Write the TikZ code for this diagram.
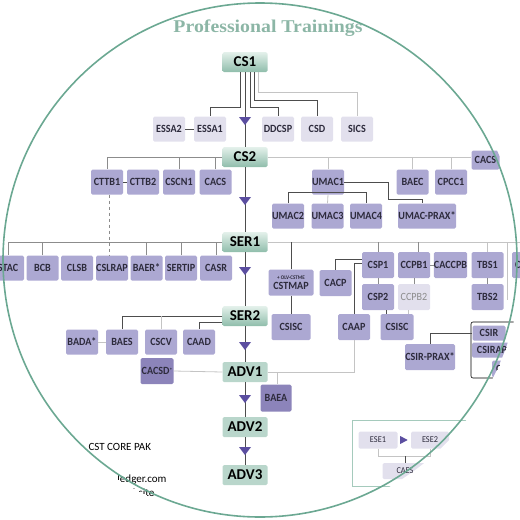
\documentclass[tikz,border=0pt]{standalone}
\usepackage{fontspec}
\newfontfamily\boxfamily[FakeStretch=0.92]{Carlito}
\newfontfamily\plainfamily{Carlito}
\newfontfamily\titlefamily[FakeStretch=1.1]{Liberation Serif}

\definecolor{boxfill}{HTML}{ACA8D2}
\definecolor{palefill}{HTML}{E2E0ED}
\definecolor{deepfill}{HTML}{8C84BA}
\definecolor{inkbox}{HTML}{2D2B3C}
\definecolor{stagetop}{HTML}{E4F1EB}
\definecolor{stagebot}{HTML}{8FBDAB}
\definecolor{advfill}{HTML}{B9D6CB}
\definecolor{tipfill}{HTML}{5B4EA0}
\definecolor{linkdark}{HTML}{4D4D4D}
\definecolor{linkmid}{HTML}{8C8C8C}
\definecolor{linkfaint}{HTML}{C4C4C4}
\definecolor{rimcol}{HTML}{6BA892}
\definecolor{titlecol}{HTML}{8CB6A6}
\definecolor{framecol}{HTML}{A5CABC}

\tikzset{
  box/.style={fill=boxfill, text=inkbox, rounded corners=1.5pt, inner sep=0pt,
    minimum width=32pt, minimum height=25pt,
    font=\boxfamily\bfseries\fontsize{11}{12}\selectfont},
  pale/.style={box, fill=palefill},
  deep/.style={box, fill=deepfill},
  stagebase/.style={rounded corners=1.5pt, inner sep=0pt, minimum width=45pt,
    minimum height=20pt, text=black,
    font=\plainfamily\bfseries\fontsize{15}{16}\selectfont},
  stage/.style={stagebase, top color=stagetop, bottom color=stagebot},
  level/.style={stagebase, fill=advfill},
  darkline/.style={draw=linkdark, line width=0.7pt},
  greyline/.style={draw=linkmid, line width=0.7pt},
  paleline/.style={draw=linkfaint, line width=0.8pt},
  spine/.style={draw=linkdark, line width=1pt},
  tip/.style={fill=tipfill},
}

\begin{document}
\begin{tikzpicture}[x=1pt,y=-1pt]
\useasboundingbox (0,0) rectangle (520,520);
\begin{scope}
\clip (260,260) circle[radius=261pt];

% title
\node[font=\titlefamily\bfseries\fontsize{18}{19}\selectfont, text=titlecol]
  (head) at (268,28) {Professional Trainings};

% main track
\node[stage] (cs1) at (245,62) {CS1};
\node[stage] (cs2) at (245,157) {CS2};
\node[stage] (ser1) at (245,242) {SER1};
\node[stage] (ser2) at (245,316) {SER2};
\node[level] (adv1) at (245,372) {ADV1};
\node[level] (adv2) at (245,427) {ADV2};
\node[level] (adv3) at (245,475) {ADV3};

\draw[spine] (cs1.south) -- (cs2.north) (cs2.south) -- (ser1.north)
  (ser1.south) -- (ser2.north) (ser2.south) -- (adv1.north)
  (adv1.south) -- (adv2.north) (adv2.south) -- (adv3.north);
\foreach \ty in {117,197,267,342,395,447}
  \fill[tip] (239,\ty) -- (251,\ty) -- (245,\ty+8) -- cycle;

%% CS1 branch
\node[pale] (essa2) at (169,129) {ESSA2};
\node[pale] (essa1) at (210,129) {ESSA1};
\node[pale] (ddcsp) at (278,129) {DDCSP};
\node[pale] (csd) at (317,129) {CSD};
\node[pale] (sics) at (357,129) {SICS};

\draw[darkline] ([xshift=-5]cs1.south) -- ++(0,35) -| (essa1.north);
\draw[darkline] ([xshift=5.5]cs1.south) -- ++(0,35) -| (ddcsp.north);
\draw[darkline] ([xshift=9.5]cs1.south) -- ++(0,28) -| (csd.north);
\draw[paleline] ([xshift=13.5]cs1.south) -- ++(0,20) -| (sics.north);
\draw[darkline] (essa2.east) -- (essa1.west);

%% CS2 branch, left
\node[box] (cttb1) at (107,182) {CTTB1};
\node[box] (cttb2) at (143,182) {CTTB2};
\node[box] (cscn1) at (179,182) {CSCN1};
\node[box] (cacs) at (215.5,182) {CACS};

\draw[greyline] (cs2.west) -| (cttb1.north);
\draw[greyline] (cscn1.north) -- (cscn1.north |- cs2.west);
\draw[greyline] (cacs.north) -- (cacs.north |- cs2.west);
\draw[darkline] (cttb1.east) -- (cttb2.west);

%% CS2 branch, right
\node[box, minimum width=28pt, minimum height=19pt] (cacsr) at (485.5,160) {CACS};
\node[box] (umac1) at (328,182) {UMAC1};
\node[box] (baec) at (412.5,182) {BAEC};
\node[box] (cpcc1) at (451,182) {CPCC1};
\node[box] (umac2) at (288,216) {UMAC2};
\node[box] (umac3) at (327.5,216) {UMAC3};
\node[box] (umac4) at (366,216) {UMAC4};
\node[box, minimum width=58pt] (umacprax) at (427,216) {UMAC-PRAX*};

\draw[paleline] (cs2.east) -- (cs2.east -| cacsr.west);
\draw[paleline] (umac1.north) -- (umac1.north |- cs2.east);
\draw[paleline] (baec.north) -- (baec.north |- cs2.east);
\draw[paleline] (cpcc1.north) -- (cpcc1.north |- cs2.east);
\draw[darkline] (umac2.north) -- ++(0,-11) -| (umac4.north);
\draw[paleline] (umac1.south) -- (umac3.north);
\draw[darkline] (umac1.east) -- ++(44,0) -- ++(0,17.5) -| ([xshift=-5]umacprax.north);

%% SER1 branch, left
\node[box] (stac) at (8,268) {STAC};
\node[box] (bcb) at (42.5,268) {BCB};
\node[box] (clsb) at (77,268) {CLSB};
\node[box] (cslrap) at (112,268) {CSLRAP};
\node[box] (baer) at (146.5,268) {BAER*};
\node[box] (sertip) at (181,268) {SERTIP};
\node[box] (casr) at (216,268) {CASR};

\draw[greyline] (ser1.west) -| (stac.north);
\foreach \n in {bcb,baer,sertip,casr}
  \draw[greyline] (\n.north) -- (\n.north |- ser1.west);
\draw[greyline, dashed] ([xshift=2.5]cttb1.south) -- ([xshift=2.5]cttb1.south |- cslrap.north);

%% SER1 branch, right
\coordinate (rimend) at (525,242);
\node[box, minimum width=45pt, minimum height=26pt, align=center] (cstmap) at (291,282.5)
  {{\fontsize{5.5}{6}\selectfont + OLV-CSTME}\\[-2pt]CSTMAP};
\node[box, minimum width=39pt, minimum height=26pt] (csisc1) at (291,327) {CSISC};
\node[box, minimum height=26pt] (cacp) at (335.5,283) {CACP};
\node[box, minimum height=26pt] (csp1) at (378,265) {CSP1};
\node[box, minimum height=26pt] (ccpb1) at (414,265) {CCPB1};
\node[box, minimum height=26pt] (caccpb) at (450.5,265) {CACCPB};
\node[box, minimum height=26pt] (tbs1) at (487.5,265) {TBS1};
\node[box, minimum height=26pt, anchor=west, text width=26pt, align=left, inner xsep=2pt] (cutc) at (512,265) {C};
\node[box, minimum height=26pt] (csp2) at (378,297) {CSP2};
\node[box, minimum height=26pt, fill=palefill, text=linkmid,
  font=\boxfamily\fontsize{11}{12}\selectfont] (ccpb2) at (414,297) {CCPB2};
\node[box, minimum height=26pt] (tbs2) at (487.5,297) {TBS2};
\node[box, minimum height=26pt] (caap) at (354,327) {CAAP};
\node[box, minimum width=33pt, minimum height=26pt] (csisc2) at (397,327) {CSISC};
\node[box, minimum width=50pt, minimum height=26pt] (csirprax) at (430,357) {CSIR-PRAX*};

\draw[paleline] (ser1.east) -- (rimend);
\draw[darkline] (cstmap.north) -- (cstmap.north |- ser1.east);
\draw[greyline] (csp1.north) -- (csp1.north |- ser1.east);
\draw[greyline] ([xshift=4]ccpb1.north) -- ([xshift=4]ccpb1.north |- ser1.east);
\draw[paleline] (tbs1.north) -- (tbs1.north |- ser1.east);
\draw[paleline] (507,242) -- (507,300);
\draw[darkline] (cstmap.south) -- (csisc1.north);
\draw[darkline] ([yshift=6]csp1.west) -| (cacp.north);
\draw[darkline] ([yshift=2]csp1.west) -| (caap.north);
\draw[greyline] (csp1.south) -- (csp2.north);
\draw[greyline] (ccpb1.south) -- (ccpb2.north);
\draw[greyline] (ccpb1.east) -- (caccpb.west);
\draw[greyline] (tbs1.south) -- (tbs2.north);
\draw[darkline] ([xshift=8]csp2.south) -- ([xshift=8]csp2.south |- csisc2.north);
\draw[paleline] ([xshift=-6]ccpb2.south) -- ([xshift=-6]ccpb2.south |- csisc2.north);

% CSIR group
\draw[black, line width=0.6pt, rounded corners=2pt] (471,322) rectangle (545,378);
\node[box, minimum width=33pt, minimum height=15pt] (csir) at (489,333) {CSIR};
\node[box, minimum width=40pt, minimum height=15pt] (csirap) at (492,350) {CSIRAP};
\node[box, minimum height=17pt, anchor=west, text width=24pt, align=left, inner xsep=3pt] (cutd) at (492,369) {C};
\draw[darkline] (csirprax.north) |- (csir.west);

%% SER2 branch
\node[box] (bada) at (82,342) {BADA*};
\node[box] (baes) at (122,342) {BAES};
\node[box] (cscv) at (161,342) {CSCV};
\node[box] (caad) at (199,342) {CAAD};
\node[deep, minimum width=33pt, minimum height=26pt] (cacsd) at (157,371)
  {CACSD\raisebox{2pt}{\fontsize{6}{6}\selectfont*}};
\node[deep, minimum width=31pt, minimum height=27pt] (baea) at (276,398) {BAEA};

\draw[darkline] (ser2.west) -| (baes.north);
\draw[paleline] (cscv.north) -- (cscv.north |- ser2.west);
\draw[darkline] ([yshift=-6]ser2.west) -| (caad.north);
\draw[paleline] (bada.east) -- (baes.west);
\draw[paleline] (cacsd.east) -- (adv1.west);
\draw[paleline] (adv1.east) -| ([xshift=1.5]baea.north);
\draw[paleline] (adv1.east) -| (caap.south);

%% legend
\node[font=\plainfamily\fontsize{11}{12}\selectfont, anchor=west] (pak) at (85,447) {CST CORE PAK};
\node[font=\plainfamily\fontsize{11}{12}\selectfont, anchor=east] (web) at (170,480) {ledger.com};
\node[font=\plainfamily\fontsize{11}{12}\selectfont, anchor=east] (site) at (158,493) {website};

\draw[framecol, line width=0.7pt] (352,420) rectangle (545,486);
\node[pale, minimum width=39pt, minimum height=17pt,
  font=\boxfamily\fontsize{9}{10}\selectfont] (ese1) at (378,440) {ESE1};
\node[pale, minimum width=38pt, minimum height=17pt,
  font=\boxfamily\fontsize{9}{10}\selectfont] (ese2) at (430,440) {ESE2};
\node[pale, minimum width=45pt, minimum height=16pt,
  font=\boxfamily\fontsize{9}{10}\selectfont] (caes) at (405,471) {CAES};
\fill[tip] ([xshift=2.5]ese1.east) ++(0,-4) -- ++(0,8) -- ++(7.5,-4) -- cycle;
\draw[paleline] (ese1.south) -- ++(0,8) -| (ese2.south);
\draw[darkline] (caes.north) -- ++(0,-7);
\end{scope}

\draw[rimcol, line width=1.6pt] (260,260) circle[radius=257pt];
\end{tikzpicture}
\end{document}
